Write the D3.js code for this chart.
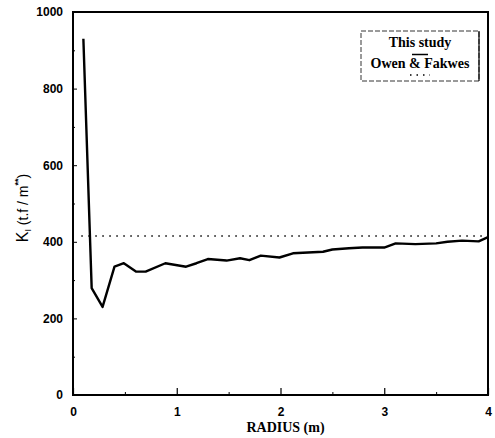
<!DOCTYPE html>
<html>
<head>
<meta charset="utf-8">
<script src="https://cdn.jsdelivr.net/npm/d3@7"></script>
<style>
  html, body { margin: 0; padding: 0; background: #fff; }
  svg { display: block; }
</style>
</head>
<body>
<svg id="chart" width="495" height="438"></svg>
<script>
// ---- data ----
const radius = [0.10, 0.18, 0.285, 0.40, 0.49, 0.61, 0.70, 0.89, 1.09, 1.19, 1.30, 1.48, 1.61, 1.70, 1.81, 1.99, 2.12, 2.41, 2.50, 2.66, 2.79, 3.00, 3.11, 3.30, 3.50, 3.61, 3.75, 3.91, 4.00];
const kThisStudy = [930, 279, 230, 335, 344, 322, 322, 344, 335, 344, 355, 351, 357, 352, 364, 359, 370, 374, 380, 383, 385, 385, 396, 394, 396, 400, 403, 401, 412];
const owenX = [0.08, 4.0];
const owenK = [415, 415];
const xTicks = [0, 1, 2, 3, 4];
const xMinorTicks = [0.5, 1.5, 2.5, 3.5];
const yTicks = [0, 200, 400, 600, 800, 1000];
const yMinorTicks = [100, 300, 500, 700, 900];
const legendLabels = ["This study", "Owen & Fakwes"];

// ---- layout ----
const svg = d3.select("#chart");
const L = 73, R = 488, T = 12, B = 395;
const x = d3.scaleLinear().domain([0, 4]).range([L, R]);
const y = d3.scaleLinear().domain([0, 1000]).range([B, T]);

// frame
svg.append("rect").attr("x", L).attr("y", T).attr("width", R - L).attr("height", B - T)
  .attr("fill", "none").attr("stroke", "#000").attr("stroke-width", 2);

// axes (ticks inward)
const xAxis = d3.axisBottom(x).tickValues(xTicks).tickSize(-7).tickPadding(12).tickFormat(d3.format("d"));
const gx = svg.append("g").attr("transform", `translate(0,${B})`).call(xAxis);
gx.select(".domain").remove();
gx.selectAll(".tick line").attr("stroke", "#000").attr("stroke-width", 1.2);
gx.selectAll(".tick text").attr("font-family", "Liberation Sans, Arial, sans-serif")
  .attr("font-size", 12).attr("font-weight", "bold").attr("fill", "#000");

const xMinor = d3.axisBottom(x).tickValues(xMinorTicks).tickSize(-3).tickFormat("");
const gxm = svg.append("g").attr("transform", `translate(0,${B})`).call(xMinor);
gxm.select(".domain").remove();
gxm.selectAll(".tick line").attr("stroke", "#000");

const yAxis = d3.axisLeft(y).tickValues(yTicks).tickSize(-4).tickPadding(10).tickFormat(d3.format("d"));
const gy = svg.append("g").attr("transform", `translate(${L},0)`).call(yAxis);
gy.select(".domain").remove();
gy.selectAll(".tick line").attr("stroke", "#000");
gy.selectAll(".tick text").attr("font-family", "Liberation Sans, Arial, sans-serif")
  .attr("font-size", 12).attr("font-weight", "bold").attr("fill", "#000");

const yMinor = d3.axisLeft(y).tickValues(yMinorTicks).tickSize(-2).tickFormat("");
const gym = svg.append("g").attr("transform", `translate(${L},0)`).call(yMinor);
gym.select(".domain").remove();
gym.selectAll(".tick line").attr("stroke", "#000");

// Owen & Fakwes dotted line
const line = d3.line().x(d => x(d[0])).y(d => y(d[1]));
svg.append("path").datum(owenX.map((v, i) => [v, owenK[i]]))
  .attr("d", line).attr("fill", "none").attr("stroke", "#000")
  .attr("stroke-width", 1.6).attr("stroke-dasharray", "1.5,5.5");

// This study solid line
svg.append("path").datum(radius.map((v, i) => [v, kThisStudy[i]]))
  .attr("d", line).attr("fill", "none").attr("stroke", "#000")
  .attr("stroke-width", 2.4).attr("stroke-linejoin", "round");

// axis titles
svg.append("text").attr("x", (L + R) / 2 + 5).attr("y", 432).attr("text-anchor", "middle")
  .attr("font-family", "Liberation Serif, Times New Roman, serif").attr("font-size", 14)
  .attr("font-weight", "bold").text("RADIUS (m)");

const yt = svg.append("text").attr("transform", "translate(28,208) rotate(-90)")
  .attr("text-anchor", "middle").attr("font-family", "Liberation Sans, Arial, sans-serif")
  .attr("font-size", 14).attr("fill", "#000");
yt.append("tspan").attr("font-size", 16).text("K");
yt.append("tspan").attr("font-size", 9).attr("dy", 3).text("I");
yt.append("tspan").attr("dy", -3).text(" (t.f / m");
yt.append("tspan").attr("font-size", 9).attr("dy", -7).attr("font-weight", "bold").text("**");
yt.append("tspan").attr("dy", 7).text(")");

// legend
const lg = svg.append("g");
lg.append("rect").attr("x", 361).attr("y", 31).attr("width", 118).attr("height", 50)
  .attr("fill", "#fff").attr("stroke", "#000").attr("stroke-width", 0.8).attr("stroke-dasharray", "5,2");
lg.append("line").attr("x1", 479).attr("x2", 479).attr("y1", 31).attr("y2", 81)
  .attr("stroke", "#000").attr("stroke-width", 1.2);
lg.append("text").attr("x", 420).attr("y", 47).attr("text-anchor", "middle")
  .attr("font-family", "Liberation Serif, Times New Roman, serif").attr("font-size", 14)
  .attr("font-weight", "bold").text(legendLabels[0]);
lg.append("line").attr("x1", 412).attr("x2", 428).attr("y1", 54.5).attr("y2", 54.5)
  .attr("stroke", "#000").attr("stroke-width", 1.5);
lg.append("text").attr("x", 420).attr("y", 68).attr("text-anchor", "middle")
  .attr("font-family", "Liberation Serif, Times New Roman, serif").attr("font-size", 14)
  .attr("font-weight", "bold").text(legendLabels[1]);
lg.append("line").attr("x1", 410).attr("x2", 430).attr("y1", 75).attr("y2", 75)
  .attr("stroke", "#000").attr("stroke-width", 1.5).attr("stroke-dasharray", "1.5,5");
</script>
</body>
</html>
